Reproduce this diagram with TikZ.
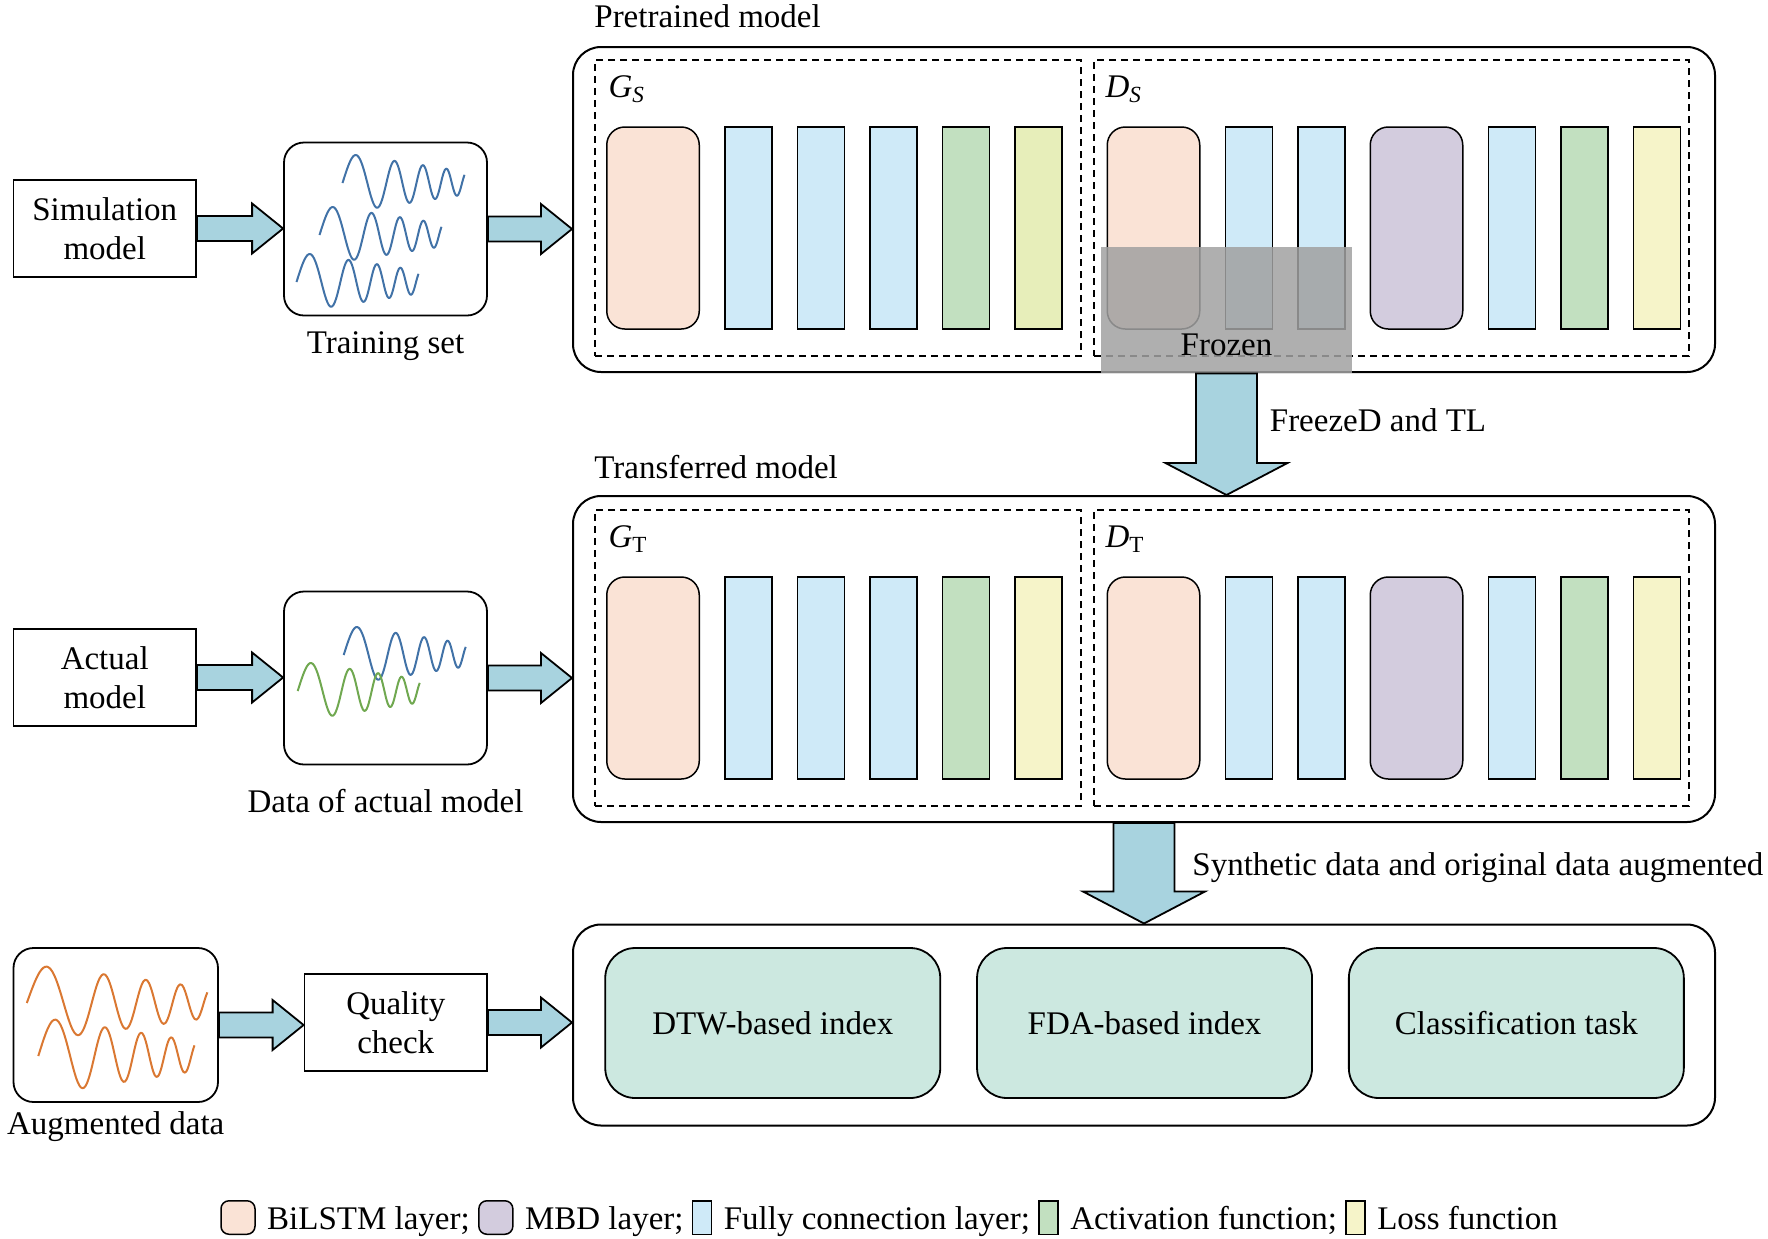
\documentclass[tikz,border=0pt]{standalone}
\usepackage{fontspec}
\setmainfont{Liberation Serif}
\usetikzlibrary{positioning, calc}

\definecolor{arrowfill}{RGB}{168,211,223}
\definecolor{lstmfill}{RGB}{250,227,214}
\definecolor{fcfill}{RGB}{207,234,248}
\definecolor{actfill}{RGB}{194,224,192}
\definecolor{lossfill}{RGB}{246,244,201}
\definecolor{lossfillS}{RGB}{231,238,186}
\definecolor{mbdfill}{RGB}{211,204,222}
\definecolor{evalfill}{RGB}{204,232,224}
\definecolor{waveblue}{RGB}{65,114,167}
\definecolor{wavegreen}{RGB}{112,168,80}
\definecolor{waveorange}{RGB}{218,120,50}

% fat arrows between blocks
\newcommand{\rightblock}[2]{%
  \path[barrow] let \p1=(#1), \p2=(#2) in
    (\x1,\y1+6.25pt) -- (\x2-15.5pt,\y1+6.25pt) -- (\x2-15.5pt,\y1+12.5pt)
    -- (\x2,\y1) -- (\x2-15.5pt,\y1-12.5pt) -- (\x2-15.5pt,\y1-6.25pt)
    -- (\x1,\y1-6.25pt) -- cycle;}
\newcommand{\downblock}[2]{%
  \path[barrow] let \p1=(#1), \p2=(#2) in
    (\x1-15.25pt,\y1) -- (\x1-15.25pt,\y2+16pt) -- (\x1-30.5pt,\y2+16pt)
    -- (\x1,\y2) -- (\x1+30.5pt,\y2+16pt) -- (\x1+15.25pt,\y2+16pt)
    -- (\x1+15.25pt,\y1) -- cycle;}
% signal sketch
\newcommand{\chirp}{plot[domain=0:122, samples=100, smooth]
  (\x,{-(30-0.15*\x)*sin(deg(0.1044*\x+0.000892*\x*\x))})}
% one row of layers
\newcommand{\layerrow}[3]{%
  \node[lstm] (#1-1) at (#2) {};
  \foreach \s [count=\i from 2, remember=\i as \j (initially 1)] in {#3}
    \node[\s, right=of #1-\j] (#1-\i) {};}

\begin{document}
\begin{tikzpicture}[
    x=0.5pt, y=-0.5pt,
    node distance=12pt,
    font=\fontsize{16.5pt}{19.5pt}\selectfont,
    lbl/.style={inner sep=0pt},
    box/.style={draw, line width=0.9pt, minimum width=91.25pt, minimum height=48.5pt, align=center, inner sep=2pt},
    databox/.style={draw, line width=0.9pt, rounded corners=10pt, minimum width=101.5pt, minimum height=86.5pt, inner sep=0pt},
    outer/.style={draw, line width=1pt, rounded corners=14pt, minimum width=571pt, inner sep=0pt},
    part/.style={draw, line width=0.8pt, dash pattern=on 3.6pt off 2.4pt, minimum height=148pt, inner sep=0pt},
    layer/.style={draw, line width=0.75pt, minimum height=101pt, inner sep=0pt},
    lstm/.style={layer, rounded corners=9pt, minimum width=46.25pt, fill=lstmfill},
    mbd/.style={layer, rounded corners=9pt, minimum width=46.25pt, fill=mbdfill},
    fc/.style={layer, minimum width=23.5pt, fill=fcfill},
    act/.style={layer, minimum width=23.5pt, fill=actfill},
    loss/.style={layer, minimum width=23.5pt, fill=lossfill},
    lossS/.style={loss, fill=lossfillS},
    evalnode/.style={draw, line width=0.9pt, rounded corners=15pt, fill=evalfill, minimum width=167.5pt, minimum height=75pt},
    barrow/.style={draw=black, fill=arrowfill, line width=0.9pt},
    wave/.style={line width=1pt, line join=round},
    legwide/.style={draw, line width=0.75pt, rounded corners=4pt, minimum width=17pt, minimum height=16.75pt, inner sep=0pt},
    legnarrow/.style={draw, line width=0.75pt, minimum width=9.5pt, minimum height=16.75pt, inner sep=0pt},
    legtxt/.style={inner sep=0pt, text height=12pt, text depth=0pt}
  ]
    \useasboundingbox (0,0) rectangle (1768,1238);

    % pretrained model
    \node[outer, minimum height=162.5pt] (pre) at (1144,209.5) {};
    \node[lbl, above right=9pt and 11pt of pre.north west] (prelbl) {Pretrained model};
    \node[part, minimum width=243pt] (gs) at (838,208) {};
    \node[part, minimum width=297.5pt] (ds) at (1391.5,208) {};
    \node[lbl, anchor=base west] at ($(gs.north west)+(14,38)$) {\textit{G}\textsubscript{\textit{S}}};
    \node[lbl, anchor=base west] at ($(ds.north west)+(12,38)$) {\textit{D}\textsubscript{\textit{S}}};
    \layerrow{gsl}{653,228}{fc,fc,fc,act,lossS}
    \layerrow{dsl}{1153.5,228}{fc,fc,mbd,fc,act,loss}
    \node[fill=black!37, fill opacity=0.85, minimum width=125.5pt, minimum height=63pt, inner sep=0pt] (frozen) at (1226.5,310) {};
    \node[lbl, anchor=base] (frozenlbl) at ($(frozen.south)+(0,-18)$) {Frozen};

    % transferred model
    \node[outer, minimum height=163pt] (trans) at (1144,659) {};
    \node[lbl, above right=8pt and 11pt of trans.north west] (translbl) {Transferred model};
    \node[part, minimum width=243pt] (gt) at (838,658) {};
    \node[part, minimum width=297.5pt] (dt) at (1391.5,658) {};
    \node[lbl, anchor=base west] at ($(gt.north west)+(14,38)$) {\textit{G}\textsubscript{T}};
    \node[lbl, anchor=base west] at ($(dt.north west)+(12,38)$) {\textit{D}\textsubscript{T}};
    \layerrow{gtl}{653,678}{fc,fc,fc,act,loss}
    \layerrow{dtl}{1153.5,678}{fc,fc,mbd,fc,act,loss}

    % evaluation
    \node[outer, minimum height=100.5pt] (evalbox) at (1144,1025) {};
    \node[evalnode] (dtw) at (772.75,1023) {DTW-based index};
    \node[evalnode, right=17.5pt of dtw] (fda) {FDA-based index};
    \node[evalnode, right=17.5pt of fda] (cls) {Classification task};

    % inputs
    \node[box] (sim) at (104.75,228.5) {Simulation\\model};
    \node[databox] (train) at (385.5,229) {};
    \node[lbl, below=7.5pt of train] (trainlbl) {Training set};
    \draw[wave, draw=waveblue, shift={(342.5,183)}] \chirp;
    \draw[wave, draw=waveblue, shift={(319.5,235)}] \chirp;
    \draw[wave, draw=waveblue, shift={(296.5,282)}] \chirp;

    \node[box] (actual) at (104.75,677.5) {Actual\\model};
    \node[databox] (actdata) at (385.5,678) {};
    \node[lbl, below=11.5pt of actdata] (actdatalbl) {Data of actual model};
    \draw[wave, draw=waveblue, shift={(343.7,655)}] \chirp;
    \draw[wave, draw=wavegreen, shift={(297.7,691)}] \chirp;

    \node[databox, minimum width=102.25pt, minimum height=77pt] (aug) at (115.75,1025) {};
    \node[lbl, below=4.25pt of aug] (auglbl) {Augmented data};
    \draw[wave, draw=waveorange, shift={(26.8,1003)}, xscale=1.48, yscale=1.3] \chirp;
    \draw[wave, draw=waveorange, shift={(38.3,1056)}, xscale=1.28, yscale=1.3] \chirp;
    \node[box] (qual) at (395.75,1022.5) {Quality\\check};

    % connectors
    \rightblock{sim.east}{train.west}
    \rightblock{train.east}{train.east -| pre.west}
    \rightblock{actual.east}{actdata.west}
    \rightblock{actdata.east}{actdata.east -| trans.west}
    \rightblock{aug.east}{aug.east -| qual.west}
    \rightblock{qual.east}{qual.east -| evalbox.west}
    \downblock{frozen.south}{frozen.south |- trans.north}
    \downblock{trans.south}{trans.south |- evalbox.north}
    \node[lbl, anchor=base west] (freezelbl) at (1269.5,431.5) {FreezeD and TL};
    \node[lbl, anchor=base west] (synthlbl) at (1192,875) {Synthetic data and original data augmented};

    % legend
    \node[legwide, fill=lstmfill] (key1) at (238,1217.5) {};
    \node[legtxt, right=5.5pt of key1] (keytxt1) {BiLSTM layer;};
    \node[legwide, fill=mbdfill, right=4pt of keytxt1] (key2) {};
    \node[legtxt, right=5.5pt of key2] (keytxt2) {MBD layer;};
    \node[legnarrow, fill=fcfill, right=4pt of keytxt2] (key3) {};
    \node[legtxt, right=5.5pt of key3] (keytxt3) {Fully connection layer;};
    \node[legnarrow, fill=actfill, right=4pt of keytxt3] (key4) {};
    \node[legtxt, right=5.5pt of key4] (keytxt4) {Activation function;};
    \node[legnarrow, fill=lossfill, right=4pt of keytxt4] (key5) {};
    \node[legtxt, right=5.5pt of key5] (keytxt5) {Loss function};
\end{tikzpicture}
\end{document}
